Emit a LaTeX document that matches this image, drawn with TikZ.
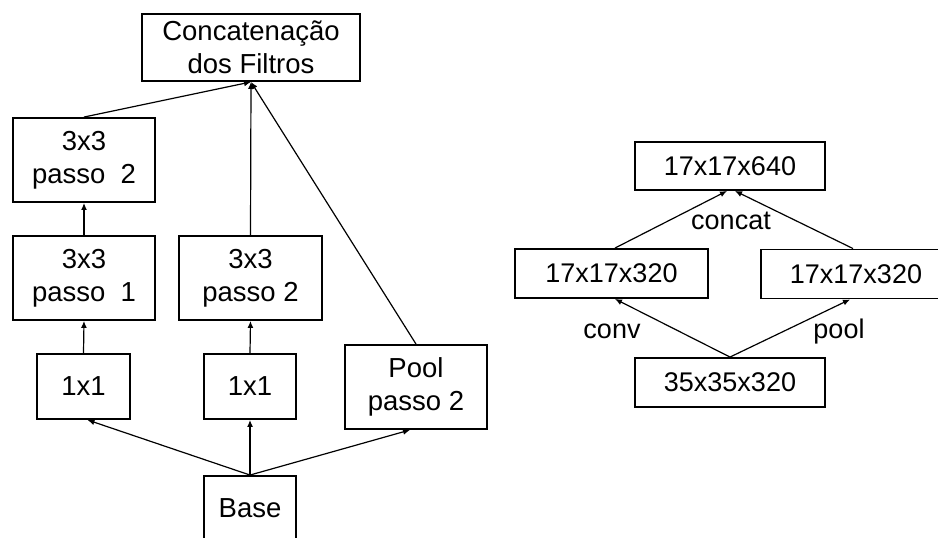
\documentclass[tikz,border=0pt]{standalone}
\usepackage{fontspec}
\setmainfont{Liberation Sans}
\usetikzlibrary{arrows.meta}
\begin{document}
\begin{tikzpicture}[x=1pt,y=-1pt,
  blk/.style={draw,line width=1.9pt,rectangle,inner sep=0pt,align=center,
    font=\fontsize{27.5}{33}\selectfont},
  link/.style={line width=1.2pt,-{Latex[length=7pt,width=6pt]}},
  lbl/.style={font=\fontsize{27}{32}\selectfont,inner sep=0pt,anchor=base}]
\useasboundingbox (0,0) rectangle (938,538);

% inception-style block with stride-2 branches
\node[blk,minimum width=218pt,minimum height=67pt] (cat) at (251,47.5) {Concatenação\\dos Filtros};
\node[blk,minimum width=142pt,minimum height=84pt] (s2a) at (84,160) {3x3\\passo\ \ 2};
\node[blk,minimum width=142pt,minimum height=84pt] (s1) at (84,278) {3x3\\passo\ \ 1};
\node[blk,minimum width=143pt,minimum height=84pt] (s2b) at (250.5,278) {3x3\\passo 2};
\node[blk,minimum width=93pt,minimum height=65pt] (c1a) at (83.5,386.5) {1x1};
\node[blk,minimum width=92pt,minimum height=65pt] (c1b) at (250,386.5) {1x1};
\node[blk,minimum width=142pt,minimum height=84pt] (pool) at (416,387) {Pool\\passo 2};
\node[blk,minimum width=92pt,minimum height=65pt] (base) at (250,508.5) {Base};

\draw[link] (base.north) -- ([xshift=4pt]c1a.south);
\draw[link] (base.north) -- (c1b.south);
\draw[link] (base.north) -- ([xshift=-6pt]pool.south);
\draw[link] (c1a.north) -- (s1.south);
\draw[link] (s1.north) -- (s2a.south);
\draw[link] (c1b.north) -- (s2b.south);
\draw[link] (s2a.north) -- (cat.south);
\draw[link] (s2b.north) -- (cat.south);
\draw[link] (pool.north) -- (cat.south);

% grid reduction summary
\node[blk,font=\fontsize{27}{32}\selectfont,minimum width=190pt,minimum height=48pt] (r640) at (730,166) {17x17x640};
\node[blk,font=\fontsize{27}{32}\selectfont,minimum width=193pt,minimum height=49pt] (ra) at (611.5,273.5) {17x17x320};
\node[blk,font=\fontsize{27}{32}\selectfont,minimum width=190pt,minimum height=49pt] (rb) at (856,274) {17x17x320};
\node[blk,font=\fontsize{27}{32}\selectfont,minimum width=190pt,minimum height=49pt] (r35) at (730,382.5) {35x35x320};

\draw[link] (r35.north) -- ([xshift=3.5pt]ra.south);
\draw[link] (r35.north) -- ([xshift=-6pt]rb.south);
\draw[link] ([xshift=3.5pt]ra.north) -- ([xshift=-3pt]r640.south);
\draw[link] ([xshift=-3pt]rb.north) -- ([xshift=5pt]r640.south);

\node[lbl] (lcat) at (731,229) {concat};
\node[lbl] (lconv) at (612,338) {conv};
\node[lbl] (lpool) at (839,338) {pool};
\end{tikzpicture}
\end{document}
